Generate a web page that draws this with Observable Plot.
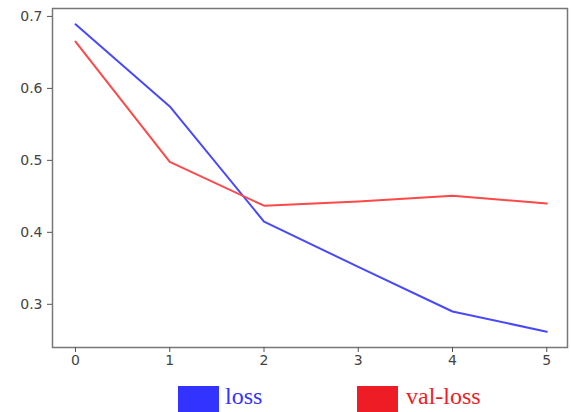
<!DOCTYPE html>
<html><head><meta charset="utf-8">
<script src="https://cdn.jsdelivr.net/npm/d3@7"></script>
<script src="https://cdn.jsdelivr.net/npm/@observablehq/plot@0.6"></script>
<style>
body{margin:0;background:#fff;width:571px;height:412px;overflow:hidden}
#legend{position:relative;height:35px;font-family:"Liberation Serif","Times New Roman",serif;font-size:24px}
.sw{position:absolute;top:9px;width:41px;height:30px}
.lb{position:absolute;top:4px;line-height:30px}
</style></head><body>
<div id="chart"></div>
<div id="legend">
  <div class="sw" style="left:178px;background:#3333ff"></div><div class="lb" style="left:225px;color:#3333ff">loss</div>
  <div class="sw" style="left:357px;background:#ee1c24"></div><div class="lb" style="left:406px;color:#ee1c24">val-loss</div>
</div>
<script>
const epochs = [0,1,2,3,4,5];
const loss = [0.689,0.575,0.415,0.352,0.290,0.262];
const valLoss = [0.665,0.498,0.437,0.443,0.451,0.440];
const xTicks = [0,1,2,3,4,5];
const yTicks = [0.3,0.4,0.5,0.6,0.7];
const rows = epochs.flatMap((e,i)=>[{epoch:e,value:loss[i],series:"loss"},{epoch:e,value:valLoss[i],series:"val-loss"}]);
const chart = Plot.plot({
  width:571, height:377,
  marginLeft:52, marginRight:4, marginTop:8, marginBottom:30,
  style:{fontFamily:"DejaVu Sans",fontSize:"14px",color:"#444",background:"#fff"},
  x:{domain:[-0.244,5.22], label:null},
  y:{domain:[0.240,0.711], label:null},
  color:{domain:["loss","val-loss"], range:["#4848ff","#ff4848"]},
  marks:[
    Plot.line(rows,{x:"epoch",y:"value",stroke:"series",strokeWidth:2}),
    Plot.frame({stroke:"#777",strokeWidth:1.5}),
    Plot.axisX({ticks:xTicks, tickSize:5, tickPadding:3, stroke:"#555", fontSize:14, tickFormat:d=>String(d)}),
    Plot.axisY({ticks:yTicks, tickSize:5, tickPadding:5, stroke:"#555", fontSize:14, tickFormat:d=>d.toFixed(1)})
  ]
});
document.getElementById("chart").appendChild(chart);
</script>
</body></html>
